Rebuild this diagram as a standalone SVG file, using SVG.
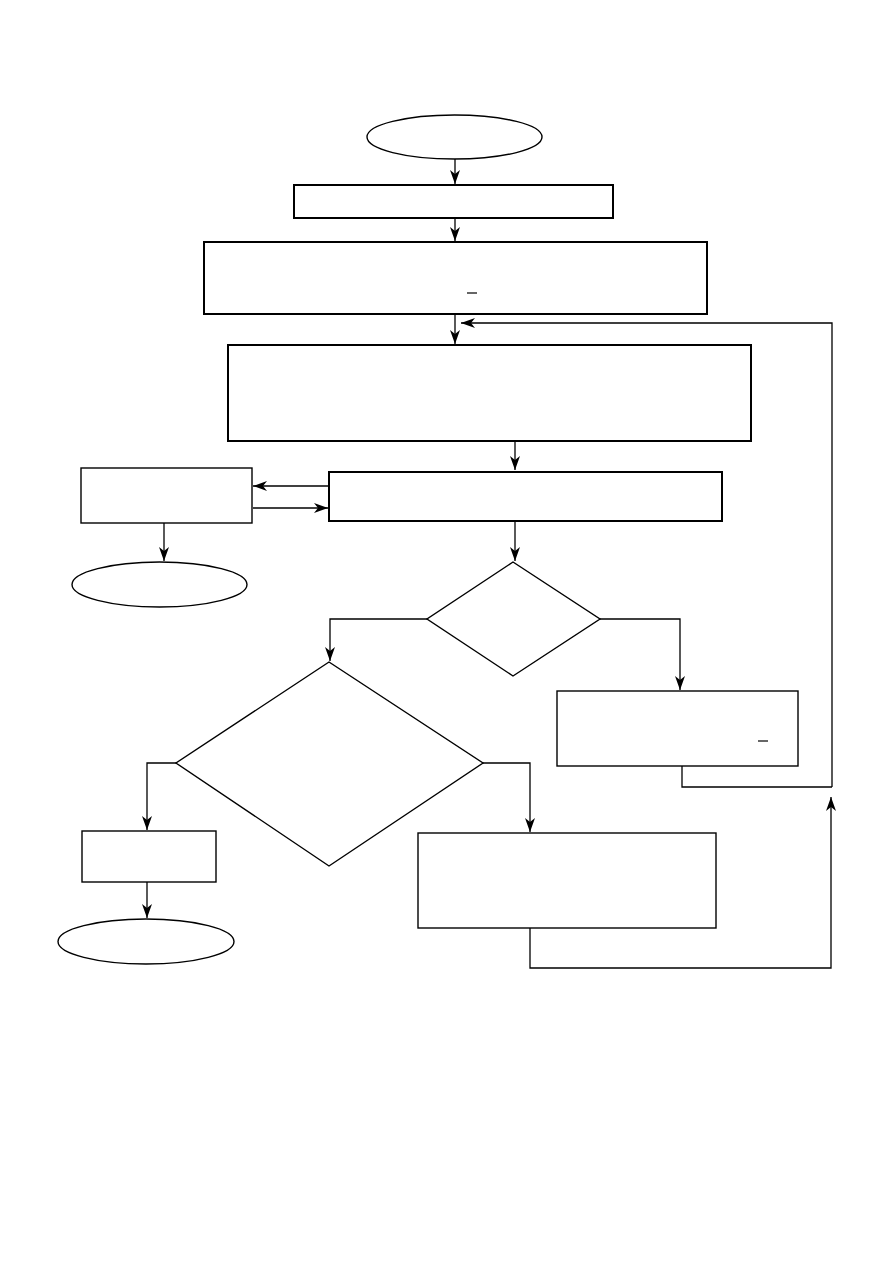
<svg xmlns="http://www.w3.org/2000/svg" width="893" height="1263" viewBox="0 0 893 1263">
<style>
.thick{fill:#fff;stroke:#000;stroke-width:2}
.thin{fill:#fff;stroke:#000;stroke-width:1.4}
.conn path{fill:none;stroke:#000;stroke-width:1.3}
.mark{stroke:#000;stroke-width:1.2}
</style>
<defs>
<marker id="ah" viewBox="0 0 14 10" refX="14" refY="5" markerWidth="14" markerHeight="10" markerUnits="userSpaceOnUse" orient="auto">
<path d="M0,0 L14,5 L0,10 L4,5 z" fill="#000"/>
</marker>
</defs>
<rect width="893" height="1263" fill="#fff"/>
<g class="conn">
<path d="M455,159 V184" marker-end="url(#ah)"/>
<path d="M455,218 V241" marker-end="url(#ah)"/>
<path d="M455,314 V344" marker-end="url(#ah)"/>
<path d="M832,787 V323 H461" marker-end="url(#ah)"/>
<path d="M515,441 V470" marker-end="url(#ah)"/>
<path d="M329,486 H253" marker-end="url(#ah)"/>
<path d="M253,508 H328" marker-end="url(#ah)"/>
<path d="M164,523 V561" marker-end="url(#ah)"/>
<path d="M515,521 V561" marker-end="url(#ah)"/>
<path d="M600,619 H680 V690" marker-end="url(#ah)"/>
<path d="M427,619 H330 V661" marker-end="url(#ah)"/>
<path d="M176,763 H147 V830" marker-end="url(#ah)"/>
<path d="M483,763 H530 V832" marker-end="url(#ah)"/>
<path d="M682,766 V787 H832"/>
<path d="M530,928 V968 H831 V797" marker-end="url(#ah)"/>
<path d="M147,882 V918" marker-end="url(#ah)"/>
</g>
<g id="start"><ellipse class="thin" cx="454.5" cy="137" rx="87.5" ry="22"/></g>
<g id="box1"><rect class="thick" x="294" y="185" width="319" height="33"/></g>
<g id="box2"><rect class="thick" x="204" y="242" width="503" height="72"/><line class="mark" x1="467" y1="293" x2="477" y2="293"/></g>
<g id="box3"><rect class="thick" x="228" y="345" width="523" height="96"/></g>
<g id="box4"><rect class="thick" x="329" y="472" width="393" height="49"/></g>
<g id="leftbox"><rect class="thin" x="81" y="468" width="171" height="55"/></g>
<g id="end1"><ellipse class="thin" cx="159.5" cy="584.5" rx="87.5" ry="22.5"/></g>
<g id="diamond1"><polygon class="thin" points="513,562 600,619 513,676 427,619"/></g>
<g id="diamond2"><polygon class="thin" points="329,662 483,763 329,866 176,763"/></g>
<g id="box5"><rect class="thin" x="557" y="691" width="241" height="75"/><line class="mark" x1="758" y1="741" x2="768" y2="741"/></g>
<g id="box6"><rect class="thin" x="82" y="831" width="134" height="51"/></g>
<g id="end2"><ellipse class="thin" cx="146" cy="941.5" rx="88" ry="22.5"/></g>
<g id="box7"><rect class="thin" x="418" y="833" width="298" height="95"/></g>
</svg>
